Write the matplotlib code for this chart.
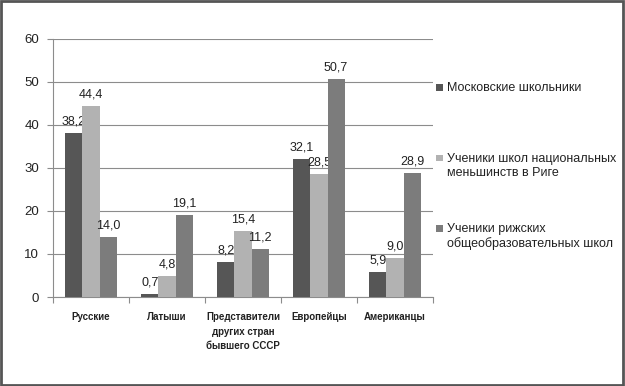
import matplotlib.pyplot as plt
import numpy as np
from matplotlib.patches import Rectangle

categories = ["Русские", "Латыши", "Представители\nдругих стран\nбывшего СССР",
              "Европейцы", "Американцы"]
series_names = ["Московские школьники",
                "Ученики школ национальных\nменьшинств в Риге",
                "Ученики рижских\nобщеобразовательных школ"]
moscow = [38.2, 0.7, 8.2, 32.1, 5.9]
riga_minor = [44.4, 4.8, 15.4, 28.5, 9.0]
riga_general = [14.0, 19.1, 11.2, 50.7, 28.9]
colors = ["#565656", "#b2b2b2", "#7c7c7c"]

plt.rcParams['font.family'] = ['Liberation Sans', 'DejaVu Sans']
fig = plt.figure(figsize=(6.25, 3.86), dpi=100)
ax = fig.add_axes([53 / 625, 1 - 297 / 386, 380 / 625, 258 / 386])

x = np.arange(len(categories))
w = 0.224
for i, (vals, c) in enumerate(zip([moscow, riga_minor, riga_general], colors)):
    b = ax.bar(x + (i - 1) * w, vals, w, color=c, zorder=3)
    ax.bar_label(b, labels=[f"{v:.1f}".replace(".", ",") for v in vals],
                 padding=4, fontsize=9, color="#222222")

ax.set_xlim(-0.5, len(categories) - 0.5)
ax.set_ylim(0, 60)
ax.set_yticks(range(0, 61, 10))
ax.yaxis.grid(True, color="#8c8c8c", linewidth=0.8, zorder=0)
ax.set_axisbelow(True)
for s in ["top", "right"]:
    ax.spines[s].set_visible(False)
for s in ["left", "bottom"]:
    ax.spines[s].set_color("#8c8c8c")
ax.tick_params(axis="y", length=4, color="#8c8c8c", labelsize=9.5,
               labelcolor="#222222", pad=6)
ax.set_xticks(np.arange(-0.5, len(categories), 1))
ax.set_xticklabels([])
ax.tick_params(axis="x", length=4, color="#8c8c8c")
ax.set_xticks(x, minor=True)
ax.set_xticklabels(categories, minor=True, fontsize=7, fontweight="bold",
                   linespacing=1.55, color="#222222")
ax.tick_params(axis="x", which="minor", length=0, pad=11)

# legend drawn by hand so the marker sits beside the first line
leg_y = [87, 158, 228]
for name, c, yy in zip(series_names, colors, leg_y):
    fig.patches.append(Rectangle((436 / 625, 1 - (yy + 3.5) / 386), 7 / 625, 7 / 386,
                                 transform=fig.transFigure, facecolor=c,
                                 edgecolor="none"))
    fig.text(447 / 625, 1 - (yy - 5) / 386, name, fontsize=9, va="top", ha="left",
             color="#222222", linespacing=1.25)

fig.patches.append(Rectangle((0.002, 0.003), 0.995, 0.994, transform=fig.transFigure,
                             fill=False, edgecolor="#555555", linewidth=2))
fig.savefig("out.png", dpi=100)
